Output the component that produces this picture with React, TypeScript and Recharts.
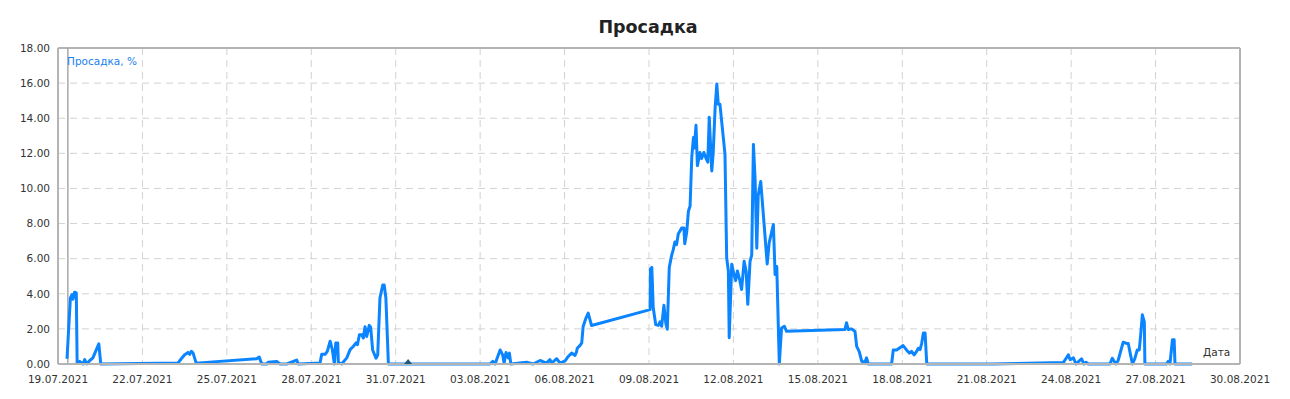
import * as React from "react";
import {
  CartesianGrid,
  ComposedChart,
  Line,
  ReferenceDot,
  ReferenceLine,
  XAxis,
  YAxis,
} from "recharts";

// дни от 19.07.2021
const days = [
  0.32, 0.44, 0.5, 0.53, 0.59, 0.65, 0.68, 0.77, 0.89, 0.95, 1.02, 1.13, 1.24, 1.45, 1.52,
  4.26, 4.38, 4.5, 4.62, 4.68, 4.74, 4.8, 4.91,
  7.06, 7.15, 7.24, 7.42, 7.47, 7.77, 7.89, 8.13, 8.48, 8.54,
  9.31, 9.37, 9.49, 9.57, 9.67, 9.75, 9.82, 9.87, 9.94, 9.96, 10.08, 10.26, 10.38, 10.49,
  10.59, 10.64, 10.71, 10.79, 10.85, 10.91, 10.97, 11.06, 11.11, 11.18, 11.3, 11.36, 11.44,
  11.54, 11.59, 11.65, 11.74,
  15.35, 15.45, 15.53, 15.71, 15.8, 15.85, 15.92, 16.0, 16.04, 16.09, 16.65, 16.88, 17.13,
  17.36, 17.48, 17.54, 17.72, 17.84, 18.02, 18.13, 18.25, 18.37, 18.43, 18.45, 18.55, 18.61,
  18.66, 18.76, 18.84, 18.96,
  21.04, 21.05, 21.1, 21.15, 21.24, 21.33, 21.39, 21.45, 21.53, 21.6, 21.65, 21.72, 21.8,
  21.86, 21.92, 21.98, 22.04, 22.16, 22.24, 22.27, 22.34, 22.4, 22.46, 22.52, 22.58, 22.61,
  22.67, 22.72, 22.81, 22.87, 22.95, 23.03, 23.09, 23.14, 23.23, 23.28, 23.35, 23.41, 23.46,
  23.52, 23.7, 23.76, 23.82, 23.85, 23.94, 24.02, 24.08, 24.14, 24.23, 24.29, 24.38, 24.45,
  24.51, 24.59, 24.65, 24.71, 24.77, 24.83, 24.88, 24.97, 25.09, 25.2, 25.27, 25.42, 25.48,
  25.54, 25.63, 25.71, 25.81, 25.89,
  27.96, 28.02, 28.08, 28.2, 28.32, 28.38, 28.47, 28.56, 28.67, 28.73, 28.79,
  29.62, 29.68, 29.8, 29.89, 30.03, 30.15, 30.25, 30.33, 30.42, 30.51, 30.57, 30.63, 30.69,
  30.75, 30.81, 30.87,
  33.23, 35.72, 35.84, 35.9, 35.96, 36.08, 36.17, 36.25, 36.37, 36.45, 36.53, 36.61,
  37.38, 37.46, 37.59, 37.67, 37.79, 37.85, 37.97, 38.03, 38.11, 38.18, 38.26, 38.35, 38.42,
  38.47, 38.53, 38.6, 38.62, 39.39, 39.45, 39.51, 39.6, 39.66, 39.69, 40.3,
];

// просадка, %
const drawdown = [
  0.3, 3.76, 3.95, 3.69, 4.09, 4.05, 0.05, 0.15, 0, 0.25, 0, 0.2, 0.35, 1.15, 0,
  0.05, 0.3, 0.53, 0.66, 0.55, 0.72, 0.62, 0.05,
  0.3, 0.4, 0, 0, 0.1, 0.15, 0, 0, 0.22, 0,
  0.05, 0.55, 0.55, 0.72, 1.3, 0.8, 0, 1.2, 1.2, 0.1, 0, 0.35, 0.82, 1.0,
  1.2, 1.1, 1.67, 1.67, 1.48, 2.12, 1.57, 2.2, 2.1, 0.8, 0.33, 0.52, 3.77,
  4.5, 4.5, 3.77, 0,
  0, 0.15, 0, 0.8, 0.52, 0.05, 0.65, 0.35, 0.62, 0, 0.1, 0, 0.2,
  0.05, 0.25, 0.05, 0.3, 0.05, 0.18, 0.43, 0.62, 0.49, 0.72, 0.9, 1.06, 1.2,
  2.14, 2.62, 2.9, 2.19,
  3.1, 5.4, 5.5, 3.2, 2.24, 2.2, 2.4, 2.15, 3.34, 2.3, 1.98, 5.5, 6.16,
  6.5, 6.95, 6.8, 7.4, 7.75, 7.75, 6.85, 7.5, 8.7, 9.0, 11.8, 12.9, 12.3,
  13.6, 11.3, 12.05, 11.7, 12.05, 11.7, 11.5, 14.05, 11.0, 12.0, 14.6, 15.95, 14.8,
  14.8, 11.95, 6.05, 5.3, 1.5, 5.68, 5.1, 4.75, 5.3, 4.75, 4.25, 5.85, 5.3,
  3.4, 5.85, 6.2, 12.5, 10.5, 6.6, 9.6, 10.4, 7.95, 5.7, 6.9, 7.95, 5.1,
  5.55, 0, 2.05, 2.15, 1.86,
  1.96, 2.35, 1.96, 2.0, 1.85, 1.0, 0.7, 0.15, 0.1, 0.35, 0,
  0, 0.8, 0.8, 0.9, 1.05, 0.8, 0.62, 0.72, 0.52, 0.72, 0.9, 0.82, 1.18,
  1.76, 1.76, 0,
  0, 0.08, 0.37, 0.52, 0.25, 0.35, 0, 0.12, 0.3, 0, 0.1, 0,
  0, 0.33, 0, 0.2, 0.9, 1.24, 1.17, 1.17, 0.52, 0, 0.3, 0.8, 0.8,
  1.65, 2.8, 2.4, 0, 0, 0.15, 0, 1.38, 1.38, 0, 0,
];

const xTicks = [0, 3, 6, 9, 12, 15, 18, 21, 24, 27, 30, 33, 36, 39, 42];
const yTicks = [0, 2, 4, 6, 8, 10, 12, 14, 16, 18];
const startMarker = 0.35;
const depositMarker = { day: 12.44, value: 0 };

const START = Date.UTC(2021, 6, 19);

const data = days.map((d, i) => ({ day: d, dd: drawdown[i] }));

function fmtDate(d: number) {
  const dt = new Date(START + d * 86400000);
  const dd = String(dt.getUTCDate()).padStart(2, "0");
  const mm = String(dt.getUTCMonth() + 1).padStart(2, "0");
  return `${dd}.${mm}.${dt.getUTCFullYear()}`;
}

const FONT = "'DejaVu Sans', Verdana, sans-serif";
const tick = { fill: "#333", fontSize: 10.5, fontFamily: FONT };
const FRAME = "#b4b4b4";

function Triangle(props: { cx?: number; cy?: number }) {
  const { cx = 0, cy = 0 } = props;
  return <path d={`M${cx - 4},${cy} L${cx},${cy - 5} L${cx + 4},${cy} Z`} fill="#1d5a78" />;
}

export default function App() {
  return (
    <div
      style={{
        position: "absolute",
        left: 0,
        top: 0,
        width: 1290,
        height: 399,
        background: "#fff",
        fontFamily: FONT,
      }}
    >
      <div
        style={{
          position: "absolute",
          left: 0,
          width: 1296,
          top: 17,
          textAlign: "center",
          fontWeight: "bold",
          fontSize: 17.5,
          color: "#222",
        }}
      >
        Просадка
      </div>
      <ComposedChart
        width={1290}
        height={399}
        data={data}
        margin={{ top: 48, right: 50, bottom: 10, left: 0 }}
      >
        <CartesianGrid stroke="#d2d2d2" strokeDasharray="7 5" />
        <XAxis
          dataKey="day"
          type="number"
          domain={[0, 42]}
          ticks={xTicks}
          tickFormatter={fmtDate}
          tick={tick}
          tickLine={false}
          tickMargin={6}
          axisLine={{ stroke: FRAME, strokeWidth: 2 }}
          height={25}
          interval={0}
        />
        <YAxis
          type="number"
          domain={[0, 18]}
          ticks={yTicks}
          tickFormatter={(v: number) => v.toFixed(2)}
          tick={tick}
          tickLine={false}
          axisLine={{ stroke: FRAME, strokeWidth: 2 }}
          width={58}
          interval={0}
        />
        <ReferenceLine y={18} stroke={FRAME} strokeWidth={2} />
        <ReferenceLine x={42} stroke={FRAME} strokeWidth={2} />
        <ReferenceLine x={startMarker} stroke="#a8a8a8" strokeWidth={1.5} />
        <Line
          dataKey="dd"
          type="linear"
          stroke="#0a84ff"
          strokeWidth={3}
          strokeLinejoin="round"
          dot={false}
          activeDot={false}
          isAnimationActive={false}
        />
        <ReferenceDot
          x={depositMarker.day}
          y={depositMarker.value}
          r={4}
          shape={<Triangle />}
        />
      </ComposedChart>
      <div
        style={{
          position: "absolute",
          left: 67,
          top: 55,
          fontSize: 10.5,
          color: "#1a7ff0",
        }}
      >
        Просадка, %
      </div>
      <div
        style={{
          position: "absolute",
          left: 1203,
          top: 346,
          fontSize: 10.5,
          color: "#333",
        }}
      >
        Дата
      </div>
    </div>
  );
}
